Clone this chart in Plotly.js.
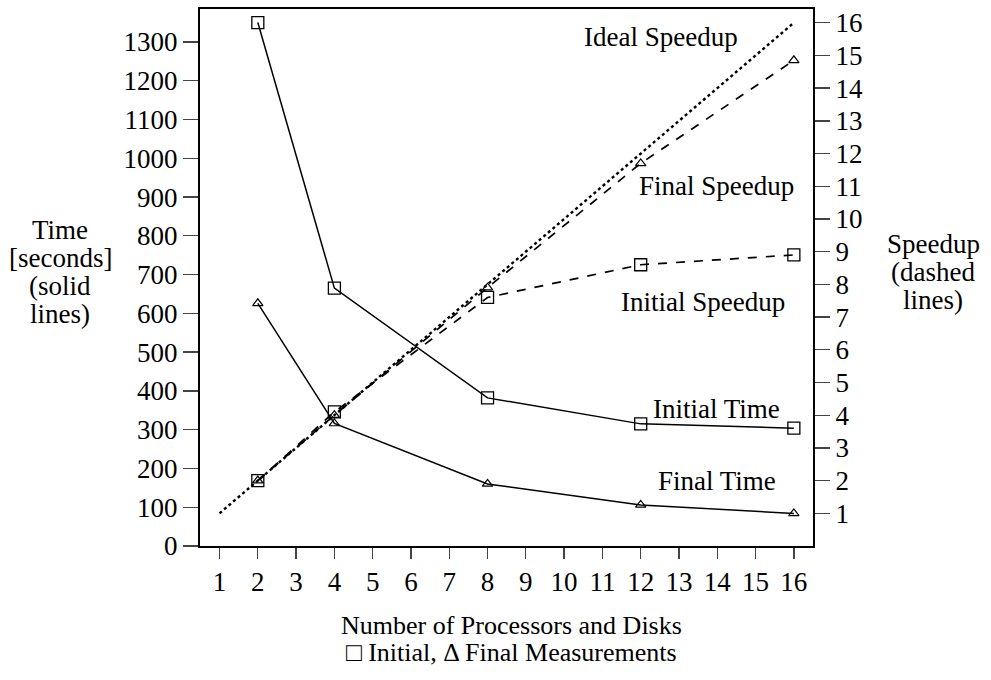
<!DOCTYPE html>
<html><head><meta charset="utf-8">
<script src="https://cdn.plot.ly/plotly-3.0.1.min.js"></script>
<style>body{margin:0;background:#fff}#c{width:991px;height:680px}</style>
</head><body><div id="c"></div>
<script>
const procs = [2, 4, 8, 12, 16];
const initialTime = [1350, 665, 382, 315, 304];
const finalTime = [626, 316, 160, 106, 84];
const initialSpeedup = [2.0, 4.1, 7.6, 8.6, 8.9];
const finalSpeedup = [2.0, 4.0, 7.9, 11.7, 14.85];
const idealX = [1, 16];
const idealSpeedup = [1, 16];
const xTicks = [1,2,3,4,5,6,7,8,9,10,11,12,13,14,15,16];
const timeTicks = [0,100,200,300,400,500,600,700,800,900,1000,1100,1200,1300];
const speedTicks = [1,2,3,4,5,6,7,8,9,10,11,12,13,14,15,16];
const labels = [
  {text:'Ideal Speedup', x:12.53, y:15.55},
  {text:'Final Speedup', x:13.99, y:11.0},
  {text:'Initial Speedup', x:13.62, y:7.45},
  {text:'Initial Time', x:13.99, y:4.2},
  {text:'Final Time', x:13.99, y:2.0}
];
const leftTitle = ['Time', '[seconds]', '(solid', 'lines)'];
const rightTitle = ['Speedup', '(dashed', 'lines)'];
const bottomTitle = ['Number of Processors and Disks', '\u25A1 Initial, \u0394 Final Measurements'];

const F = 'Liberation Serif, Times New Roman, serif';
const FS = 27;
const black = '#000';
const traces = [
  {x: procs, y: initialTime, mode:'lines+markers', line:{color:black,width:1.5},
   marker:{symbol:'square-open', size:12, color:black, line:{width:1.3}}},
  {x: procs, y: finalTime, mode:'lines+markers', line:{color:black,width:1.5},
   marker:{symbol:'triangle-up-open', size:9, color:black, line:{width:1.2}}},
  {x: procs, y: initialSpeedup, yaxis:'y2', mode:'lines+markers', line:{color:black,width:1.7,dash:'dash'},
   marker:{symbol:'square-open', size:12, color:black, line:{width:1.3}}},
  {x: procs, y: finalSpeedup, yaxis:'y2', mode:'lines+markers', line:{color:black,width:1.7,dash:'dash'},
   marker:{symbol:'triangle-up-open', size:9, color:black, line:{width:1.2}}},
  {x: idealX, y: idealSpeedup, yaxis:'y2', mode:'lines', line:{color:black,width:2.4,dash:'dot'}}
];

const plotL = 200, plotT = 9, plotW = 613, plotH = 537;
const px = v => (v - plotL) / plotW;
const py = v => (plotT + plotH - v) / plotH;
const font = {family:F,size:FS,color:black};

const annotations = labels.map(l => ({
  text:l.text, x:l.x, y:l.y, xref:'x', yref:'y2', showarrow:false, font:font
}));
leftTitle.forEach((t,i) => annotations.push({text:t, xref:'paper', yref:'paper',
  x:px(60), y:py(230 + 28*i), xanchor:'center', yanchor:'middle', showarrow:false, font:font}));
rightTitle.forEach((t,i) => annotations.push({text:t, xref:'paper', yref:'paper',
  x:px(933), y:py(244 + 28*i), xanchor:'center', yanchor:'middle', showarrow:false, font:font}));
bottomTitle.forEach((t,i) => annotations.push({text:t, xref:'paper', yref:'paper',
  x:px(511), y:py(625 + 27*i), xanchor:'center', yanchor:'middle', showarrow:false,
  font:{family:F,size:26,color:black}}));

const layout = {
  width:991, height:680, showlegend:false,
  paper_bgcolor:'#fff', plot_bgcolor:'#fff',
  margin:{l:200, r:178, t:9, b:134},
  font:font,
  xaxis:{range:[0.49,16.5], tickvals:xTicks, ticks:'outside', ticklen:11, tickwidth:1.3,
    showline:true, linewidth:2, linecolor:black, mirror:true, showgrid:false, zeroline:false,
    tickfont:font},
  yaxis:{range:[0,1385], tickvals:timeTicks, ticks:'outside', ticklen:15, tickwidth:1.3,
    showline:true, linewidth:2, linecolor:black, showgrid:false, zeroline:false,
    tickfont:font},
  yaxis2:{range:[0,16.42], tickvals:speedTicks, overlaying:'y', side:'right', ticks:'outside',
    ticklen:15, tickwidth:1.3, showline:true, linewidth:2, linecolor:black, showgrid:false, zeroline:false,
    tickfont:font},
  annotations: annotations
};
Plotly.newPlot('c', traces, layout, {displayModeBar:false, staticPlot:true});
</script></body></html>
